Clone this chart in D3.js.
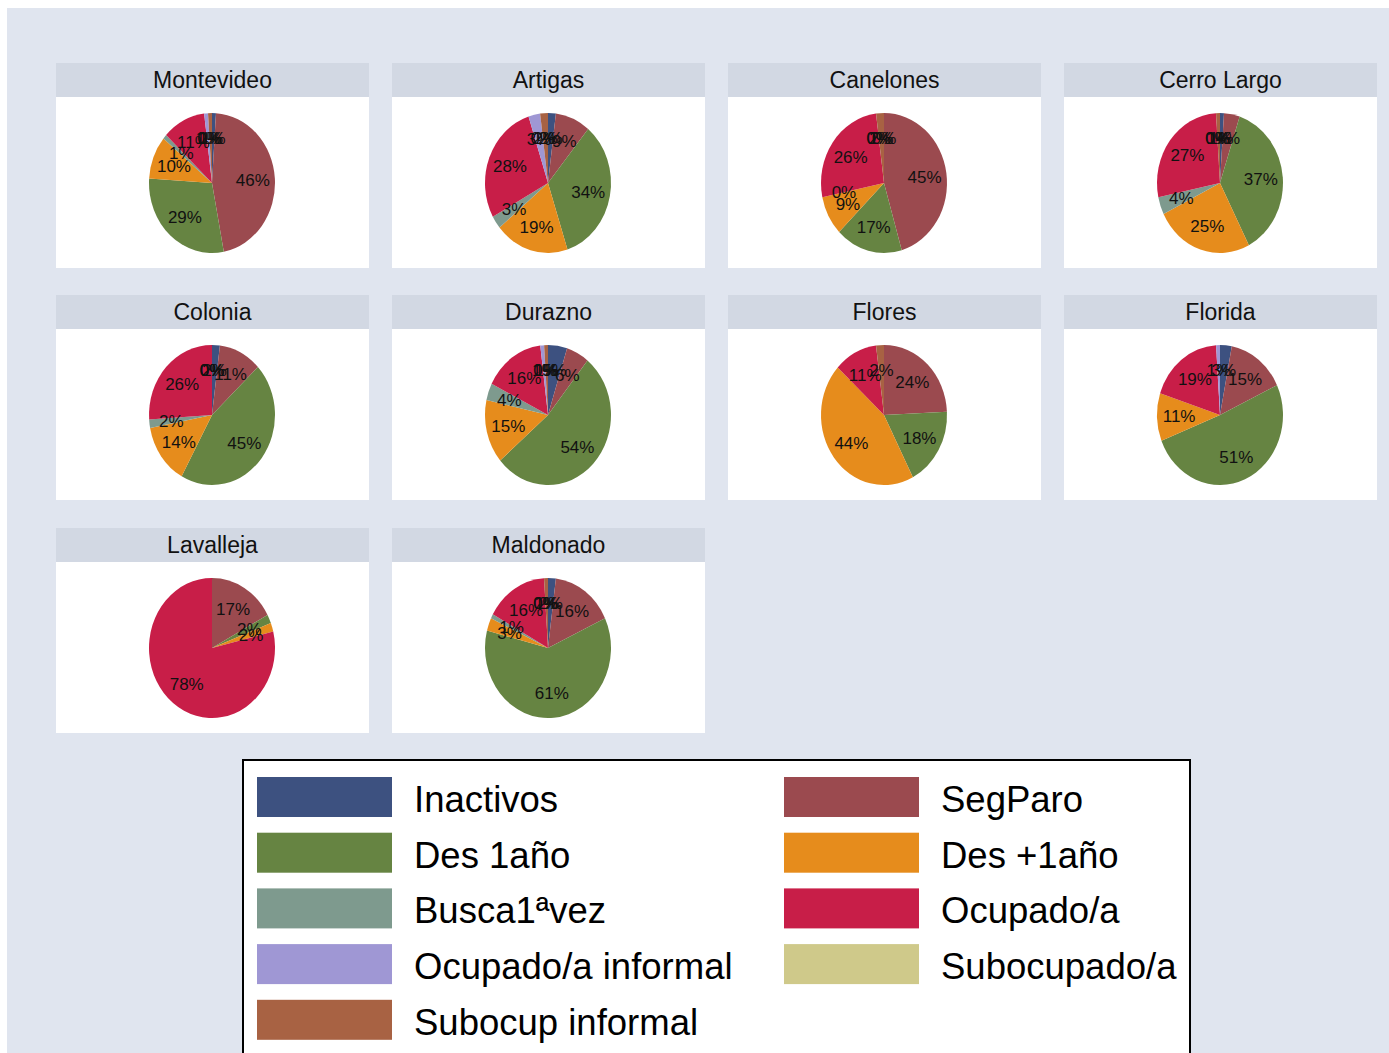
<!DOCTYPE html>
<html>
<head>
<meta charset="utf-8">
<script src="https://cdn.jsdelivr.net/npm/d3@7"></script>
<style>
  body { margin: 0; background: #fff; }
  svg { display: block; font-family: "Liberation Sans", Arial, sans-serif; }
</style>
</head>
<body>
<svg id="chart" width="1389" height="1053"></svg>
<script>
// categories, in pie order (clockwise from 12 o'clock)
const categories = ["Inactivos", "SegParo", "Des 1año", "Des +1año", "Busca1ªvez",
  "Ocupado/a", "Ocupado/a informal", "Subocupado/a", "Subocup informal"];
const colors = ["#3d5180", "#9b4a4f", "#668442", "#e68c1c", "#7e9a8e",
  "#c81e48", "#9f97d4", "#cfc98a", "#a86243"];

const departments = ["Montevideo", "Artigas", "Canelones", "Cerro Largo",
  "Colonia", "Durazno", "Flores", "Florida", "Lavalleja", "Maldonado"];

// percentages per department (null = category not present)
const montevideo = [1, 46, 29, 10, 1, 11, 1, 0, 1];
const artigas    = [2, 9, 34, 19, 3, 28, 3, 0, 2];
const canelones  = [0, 45, 17, 9, 0, 26, 0, 0, 2];
const cerroLargo = [1, 4, 37, 25, 4, 27, 0, 0, 1];
const colonia    = [2, 11, 45, 14, 2, 26, 0, 0, 0];
const durazno    = [5, 6, 54, 15, 4, 16, 1, 0, 1];
const flores     = [null, 24, 18, 44, null, 11, null, null, 2];
const florida    = [3, 15, 51, 11, null, 19, 1, null, null];
const lavalleja  = [null, 17, 2, 2, null, 78, null, null, null];
const maldonado  = [2, 16, 61, 3, 1, 16, 0, 0, 1];

const table = [montevideo, artigas, canelones, cerroLargo, colonia,
  durazno, flores, florida, lavalleja, maldonado];

const svg = d3.select("#chart");

// outer background
svg.append("rect").attr("x", 7).attr("y", 8).attr("width", 1382).attr("height", 1045)
  .attr("fill", "#e0e5ef");

const colX = [56, 392, 728, 1064];
const rowY = [63, 295, 528];
const panelW = 313, headH = 34, plotH = 171;
const rx = 63, ry = 70;

const pie = d3.pie().sort(null).value(d => d.value);
const arc = d3.arc().innerRadius(0).outerRadius(rx);
const labelArc = d3.arc().innerRadius(rx * 0.65).outerRadius(rx * 0.65);

departments.forEach((name, i) => {
  const x0 = colX[i % 4], y0 = rowY[Math.floor(i / 4)];
  const g = svg.append("g").attr("transform", `translate(${x0},${y0})`);

  g.append("rect").attr("width", panelW).attr("height", headH).attr("fill", "#d2d8e3");
  g.append("text").attr("x", panelW / 2).attr("y", headH / 2 + 8)
    .attr("text-anchor", "middle").attr("font-size", 23).attr("fill", "#111")
    .text(name);
  g.append("rect").attr("y", headH).attr("width", panelW).attr("height", plotH)
    .attr("fill", "#fff");

  const data = table[i]
    .map((v, k) => ({ cat: k, value: v }))
    .filter(d => d.value !== null);
  const arcs = pie(data);

  const cx = panelW / 2 - 0.5, cy = headH + plotH / 2 + 0.5;
  const pg = g.append("g")
    .attr("transform", `translate(${cx},${cy}) scale(1,${ry / rx})`);

  pg.selectAll("path")
    .data(arcs)
    .join("path")
    .attr("d", arc)
    .attr("fill", d => colors[d.data.cat]);

  const lg = g.append("g").attr("transform", `translate(${cx},${cy})`);
  lg.selectAll("text")
    .data(arcs)
    .join("text")
    .attr("x", d => labelArc.centroid(d)[0])
    .attr("y", d => labelArc.centroid(d)[1] * ry / rx + 6)
    .attr("text-anchor", "middle")
    .attr("font-size", 17)
    .attr("fill", "#111")
    .text(d => d.data.value + "%");
});

// legend
const leg = svg.append("g");
leg.append("rect").attr("x", 243).attr("y", 760).attr("width", 947).attr("height", 310)
  .attr("fill", "#fff").attr("stroke", "#000").attr("stroke-width", 2);

categories.forEach((c, j) => {
  const col = j % 2, row = Math.floor(j / 2);
  const kx = col === 0 ? 257 : 784;
  const ky = 777 + row * 55.7;
  leg.append("rect").attr("x", kx).attr("y", ky).attr("width", 135).attr("height", 40)
    .attr("fill", colors[j]);
  leg.append("text").attr("x", kx + 157).attr("y", ky + 35)
    .attr("font-size", 36.5).attr("fill", "#000")
    .text(c);
});
</script>
</body>
</html>
